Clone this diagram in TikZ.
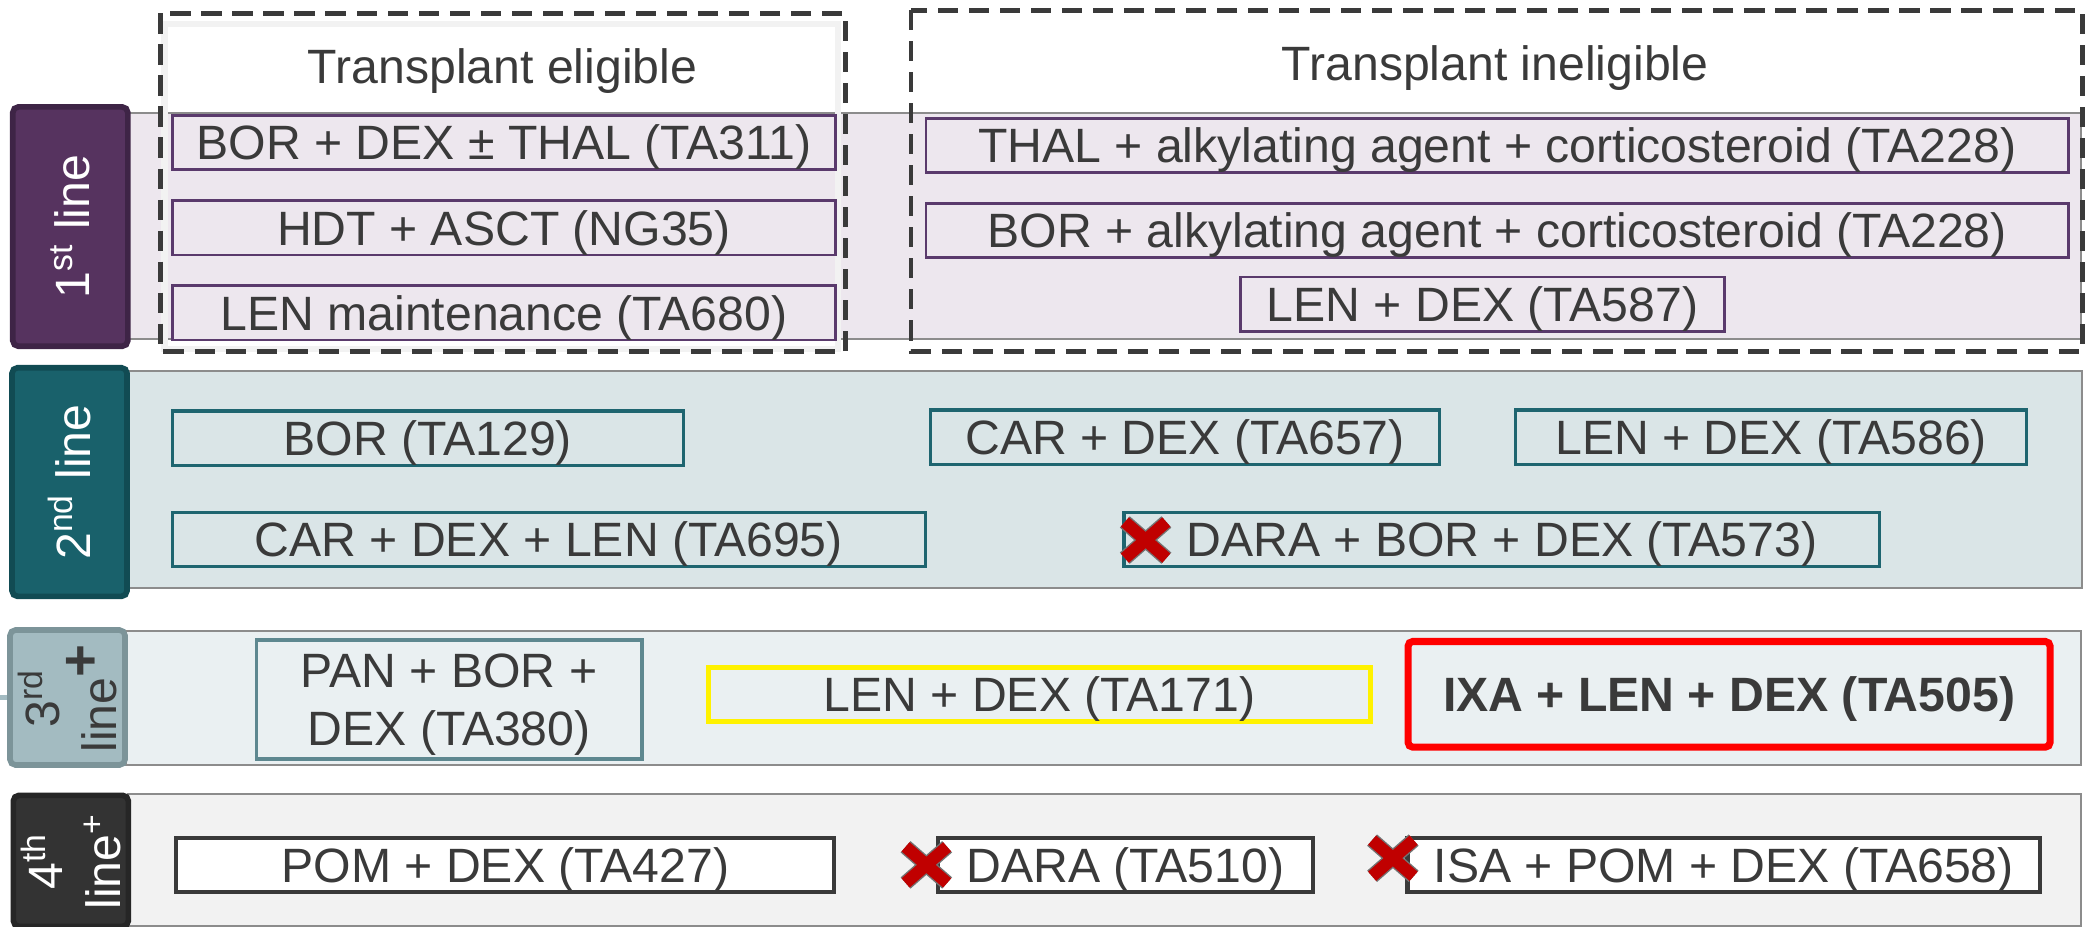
\documentclass[tikz,border=0pt]{standalone}
\usepackage{fontspec}
\setmainfont{Liberation Sans}
\usepackage{tikz}
\usetikzlibrary{positioning}
\usetikzlibrary{shapes.misc}

\definecolor{ink}{HTML}{3A3A3A}
\definecolor{purpTag}{HTML}{56335F}
\definecolor{purpTagB}{HTML}{3E2446}
\definecolor{purpB}{HTML}{5A3A6C}
\definecolor{band1}{HTML}{EDE7EE}
\definecolor{tealTag}{HTML}{19616B}
\definecolor{tealTagB}{HTML}{114B53}
\definecolor{tealB}{HTML}{1E6570}
\definecolor{band2}{HTML}{DAE5E7}
\definecolor{tag3}{HTML}{A3BBC1}
\definecolor{tag3B}{HTML}{7C9499}
\definecolor{box3B}{HTML}{5E8890}
\definecolor{band3}{HTML}{EAF0F2}
\definecolor{tag4}{HTML}{333333}
\definecolor{tag4B}{HTML}{262626}
\definecolor{band4}{HTML}{F2F2F2}
\definecolor{xred}{HTML}{C00000}

\begin{document}
\begin{tikzpicture}[x=0.01cm,y=-0.01cm,node distance=0.636cm,
  every node/.style={inner sep=0pt,text=ink,font=\fontsize{10.25}{12.3}\selectfont},
  band/.style={draw=black!45,line width=0.4pt},
  group/.style={draw=ink,line width=1.05pt,dash pattern=on 4.3pt off 2.3pt},
  tag/.style={rotate=90,draw,rounded corners=1.2pt,line width=1.2pt,minimum height=0.86cm,align=center,text=white},
  item/.style={draw,line width=0.6pt,minimum height=0.405cm,text height=7.3pt,text depth=0pt},
  box1/.style={item,draw=purpB,fill=band1},
  box2/.style={item,draw=tealB,fill=band2,line width=0.7pt},
  box3/.style={item,fill=band3},
  box4/.style={item,draw=ink,fill=white,line width=0.9pt},
  xmark/.style={cross out,draw=black!55,double=xred,double distance=2.6pt,line width=0.3pt,minimum width=0.3cm,minimum height=0.26cm}]
  \useasboundingbox (0,0) rectangle (1568,693);

  \draw[band,fill=band1] (96,84.3) rectangle (1557,253.5);
  \draw[band,fill=band2] (95,277.4) rectangle (1557.6,440);
  \draw[band,fill=band3] (94,472) rectangle (1557,572.5);
  \draw[band,fill=band4] (96,594) rectangle (1557,692.5);
  \draw[black!5,line width=1.4pt] (123,18) rectangle (627,261);

  \draw[group] (120,10) rectangle (632.6,263);
  \draw[group] (681.5,7.5) rectangle (1557.6,263);
  \node[text height=7.3pt,text depth=0pt] (elig) at (376,49.8) {Transplant eligible};
  \node[text height=7.3pt,text depth=0pt] (inelig) at (1118.5,47) {Transplant ineligible};

  \node[tag,draw=purpTagB,fill=purpTag,minimum width=1.79cm] (l1) at (52.6,169.5) {1\textsuperscript{st} line};
  \node[tag,draw=tealTagB,fill=tealTag,minimum width=1.71cm] (l2) at (52,360.6) {2\textsuperscript{nd} line};
  \node[tag,draw=tag3B,fill=tag3,text=ink,minimum width=1.01cm] (l3) at (50.5,521.8) {3\textsuperscript{rd}\\line\textsuperscript{\large\bfseries +}};
  \node[tag,draw=tag4B,fill=tag4,minimum width=0.98cm] (l4) at (53,644) {4\textsuperscript{th}\\line\textsuperscript{+}};
  \coordinate (stub) at (0,521.8);
  \draw[tag3,line width=1pt] (stub) -- (l3);

  \node[box1,minimum width=4.96cm] (ta311) at (377,106.8) {BOR + DEX ± THAL (TA311)};
  \node[box1,minimum width=4.96cm,below of=ta311] (ng35) {HDT + ASCT (NG35)};
  \node[box1,minimum width=4.96cm,below of=ng35] (ta680) {LEN maintenance (TA680)};
  \node[box1,minimum width=8.54cm] (ta228a) at (1120,109) {THAL + alkylating agent + corticosteroid (TA228)};
  \node[box1,minimum width=8.54cm,below of=ta228a] (ta228b) {BOR + alkylating agent + corticosteroid (TA228)};
  \node[box1,minimum width=3.62cm] (ta587) at (1109,227.5) {LEN + DEX (TA587)};

  \node[box2,minimum width=3.82cm] (ta129) at (320,327.8) {BOR (TA129)};
  \node[box2,minimum width=3.81cm] (ta657) at (886.5,327) {CAR + DEX (TA657)};
  \node[box2,minimum width=3.82cm] (ta586) at (1325,327) {LEN + DEX (TA586)};
  \node[box2,minimum width=5.63cm] (ta695) at (410.5,403.5) {CAR + DEX + LEN (TA695)};
  \node[box2,minimum width=5.65cm] (ta573) at (1123.5,403.4) {DARA + BOR + DEX (TA573)};
  \node[xmark] (x573) at (857,404) {};

  \node[box3,draw=box3B,line width=0.8pt,minimum width=2.88cm,minimum height=0.89cm,align=center,text height=19.6pt] (ta380) at (336,523.3) {PAN + BOR +\\DEX (TA380)};
  \node[box3,draw=yellow,line width=1.1pt,minimum width=4.95cm] (ta171) at (777.5,519.5) {LEN + DEX (TA171)};
  \node[box3,draw=red,line width=1.5pt,rounded corners=1pt,minimum width=4.8cm,minimum height=0.79cm,font=\fontsize{10.25}{12.3}\selectfont\bfseries] (ta505) at (1293.5,519.4) {IXA + LEN + DEX (TA505)};

  \node[box4,minimum width=4.92cm] (ta427) at (378,647) {POM + DEX (TA427)};
  \node[box4,minimum width=2.8cm] (ta510) at (842,647) {DARA (TA510)};
  \node[box4,minimum width=4.73cm] (ta658) at (1289.5,647) {ISA + POM + DEX (TA658)};
  \node[xmark] (x510) at (693,647) {};
  \node[xmark] (x658) at (1042,642) {};
\end{tikzpicture}
\end{document}
